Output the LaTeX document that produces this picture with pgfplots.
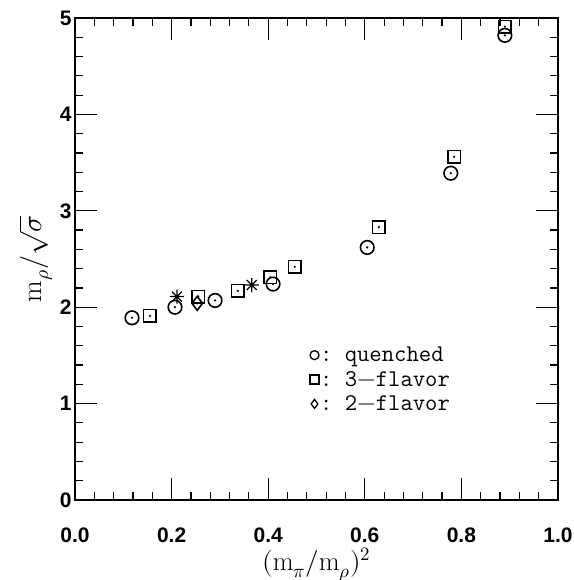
\documentclass[border=0pt]{standalone}
\usepackage{fontspec}
\usepackage{unicode-math}
\setmathfont{Latin Modern Math}
\usepackage{pgfplots}
\pgfplotsset{compat=1.18}
\setsansfont{Liberation Sans}

\pgfdeclareplotmark{burst}{%
  \pgfpathmoveto{\pgfqpoint{0pt}{\pgfplotmarksize}}%
  \pgfpathlineto{\pgfqpoint{0pt}{-\pgfplotmarksize}}%
  \pgfpathmoveto{\pgfqpoint{\pgfplotmarksize}{0pt}}%
  \pgfpathlineto{\pgfqpoint{-\pgfplotmarksize}{0pt}}%
  \pgfpathmoveto{\pgfqpoint{0.707\pgfplotmarksize}{0.707\pgfplotmarksize}}%
  \pgfpathlineto{\pgfqpoint{-0.707\pgfplotmarksize}{-0.707\pgfplotmarksize}}%
  \pgfpathmoveto{\pgfqpoint{0.707\pgfplotmarksize}{-0.707\pgfplotmarksize}}%
  \pgfpathlineto{\pgfqpoint{-0.707\pgfplotmarksize}{0.707\pgfplotmarksize}}%
  \pgfusepathqstroke}

\begin{document}
\begin{tikzpicture}
\begin{axis}[
  scale only axis,
  width=483pt, height=482pt,
  xmin=0, xmax=1, ymin=0, ymax=5,
  xtick={0,0.2,0.4,0.6,0.8,1.0},
  ytick={0,1,2,3,4,5},
  minor x tick num=4,
  minor y tick num=4,
  tick align=inside,
  major tick length=22pt,
  minor tick length=8pt,
  axis line style={line width=1.6pt},
  every tick/.style={black, line width=1.2pt},
  /pgf/number format/assume math mode=true,
  xticklabel style={inner sep=0pt, font=\fontsize{21}{21}\selectfont\sffamily\bfseries, /pgf/number format/.cd, fixed, fixed zerofill, precision=1},
  yticklabel style={font=\fontsize{21}{21}\selectfont\sffamily\bfseries},
  xticklabel shift=28pt,
  xlabel={$(\mathrm{m}_\pi/\mathrm{m}_\rho)^2$},
  ylabel={$\mathrm{m}_\rho/\sqrt{\sigma}$},
  xlabel style={font=\fontsize{27}{27}\selectfont, at={(axis description cs:0.5,0)}, anchor=north, inner sep=0pt, yshift=-48pt},
  ylabel style={font=\fontsize{28}{28}\selectfont, at={(axis description cs:-0.046,0.5)}, anchor=south, inner sep=0pt},
  legend style={draw=none, fill=none, at={(axis cs:0.48,1.63)}, anchor=north west,
    font=\ttfamily\fontsize{24}{26}\selectfont, row sep=4pt,
    nodes={inner xsep=1pt}},
  legend cell align=left,
  legend image post style={mark size=4.5pt, line width=1.3pt},
]
\addplot[only marks, mark=o, mark size=6.8pt, line width=1.6pt] coordinates {
  (0.118,1.89) (0.207,2.00) (0.290,2.07) (0.410,2.24) (0.605,2.62) (0.778,3.39) (0.890,4.82)};
\addlegendentry{:~quenched}
\addplot[only marks, mark=square, mark size=6.2pt, line width=1.6pt] coordinates {
  (0.155,1.91) (0.255,2.11) (0.337,2.17) (0.404,2.31) (0.455,2.42) (0.629,2.83) (0.785,3.56) (0.890,4.91)};
\addlegendentry{:~3$-$flavor}
\addplot[only marks, mark=diamond, mark size=7pt, line width=1.6pt] coordinates {
  (0.253,2.04)};
\addlegendentry{:~2$-$flavor}
\addplot[only marks, mark=burst, mark size=7pt, line width=1.3pt, forget plot] coordinates {
  (0.211,2.11) (0.366,2.23)};
\addplot[only marks, mark=*, mark size=0.9pt, forget plot] coordinates {
  (0.118,1.89) (0.207,2.00) (0.290,2.07) (0.410,2.24) (0.605,2.62) (0.778,3.39) (0.890,4.82)
  (0.155,1.91) (0.255,2.11) (0.337,2.17) (0.404,2.31) (0.455,2.42) (0.629,2.83) (0.785,3.56) (0.890,4.91)
  (0.253,2.04)};
\coordinate (ll) at (rel axis cs:0,0);
\coordinate (ur) at (rel axis cs:1,1);
\end{axis}
\pgfresetboundingbox
\path ([shift={(-75pt,-80pt)}]ll) rectangle ([shift={(16pt,18pt)}]ur);
\end{tikzpicture}
\end{document}
